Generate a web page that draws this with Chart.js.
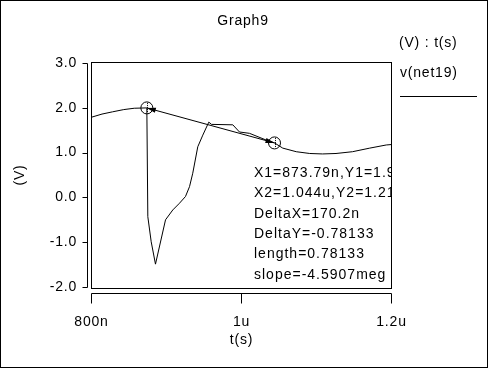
<!DOCTYPE html>
<html>
<head>
<meta charset="utf-8">
<title>Graph9</title>
<script src="https://cdn.jsdelivr.net/npm/chart.js@4/dist/chart.umd.min.js"></script>
<style>
  html, body { margin: 0; padding: 0; background: #fff; }
  canvas { display: block; }
</style>
</head>
<body>
<canvas id="graph" width="488" height="368"></canvas>
<script>
// v(net19) trace: time in ns, value in V
let timeNs = [800, 814, 828, 843, 857, 873.79, 875.1, 879.6, 885.3, 898.7, 908.4, 917.3, 925.3, 930.7, 935,
              941.7, 948.4, 956.4, 960, 988.4, 997.3, 1010.7, 1032.9, 1044, 1055, 1073, 1091, 1108, 1126,
              1148, 1171, 1193, 1200];
let volts = [1.79, 1.86, 1.91, 1.96, 1.99, 1.9977, -0.43, -0.99, -1.49, -0.50, -0.28, -0.13, 0.02, 0.24, 0.54,
             1.13, 1.39, 1.68, 1.63, 1.62, 1.46, 1.43, 1.28, 1.2163, 1.10, 1.02, 0.98, 0.97, 0.98,
             1.02, 1.10, 1.17, 1.18];

// the two cursors
let cursorT = [873.79, 1044];
let cursorV = [1.9977, 1.2163];

let xTickLabels = { 800: '800n', 1000: '1u', 1200: '1.2u' };

let readout = [
    'X1=873.79n,Y1=1.9977',
    'X2=1.044u,Y2=1.2163',
    'DeltaX=170.2n',
    'DeltaY=-0.78133',
    'length=0.78133',
    'slope=-4.5907meg'
];

const FONT = '14px "Liberation Sans", Arial, sans-serif';
const SPACING = '0.8px';

let extras = {
    id: 'extras',
    beforeDraw(chart) {
        chart.ctx.letterSpacing = SPACING;
    },
    afterDraw(chart) {
        const ctx = chart.ctx;
        const ca = chart.chartArea;
        const xs = chart.scales.x;
        const ys = chart.scales.y;

        ctx.save();
        ctx.strokeStyle = '#000';
        ctx.fillStyle = '#000';
        ctx.lineWidth = 1;
        ctx.font = FONT;
        ctx.letterSpacing = SPACING;

        // window frame
        ctx.strokeRect(0.5, 0.5, 487, 367);

        // plot box
        let L = Math.floor(ca.left) + 0.5, R = Math.floor(ca.right) + 0.5;
        let T = Math.round(ca.top) - 0.5, B = Math.round(ca.bottom) + 1.5;
        ctx.strokeRect(L, T, R - L, B - T);

        // y axis, detached on the left
        ctx.beginPath();
        let ax = L - 4;
        ctx.moveTo(ax, T + 1);
        ctx.lineTo(ax, B - 1);
        ys.ticks.forEach(t => {
            let py = Math.round(ys.getPixelForValue(t.value)) + 0.5;
            ctx.moveTo(ax - 5, py);
            ctx.lineTo(ax, py);
        });
        // x axis, detached below
        let ay = B + 5;
        ctx.moveTo(L, ay);
        ctx.lineTo(R, ay);
        xs.ticks.forEach(t => {
            let px = Math.floor(xs.getPixelForValue(t.value)) + 0.5;
            ctx.moveTo(px, ay);
            ctx.lineTo(px, ay + 10);
        });
        ctx.stroke();

        // cursor decorations
        let p = cursorT.map((t, i) => ({ x: xs.getPixelForValue(t), y: ys.getPixelForValue(cursorV[i]) }));
        let ang = Math.atan2(p[1].y - p[0].y, p[1].x - p[0].x);
        p.forEach((c, i) => {
            ctx.save();
            ctx.setLineDash([1, 1]);
            ctx.beginPath();
            ctx.moveTo(Math.round(c.x) + 0.5, c.y - 5);
            ctx.lineTo(Math.round(c.x) + 0.5, c.y + 5);
            ctx.stroke();
            ctx.restore();
            let a = i === 0 ? ang : ang + Math.PI;
            ctx.beginPath();
            ctx.moveTo(c.x, c.y);
            ctx.lineTo(c.x + 9 * Math.cos(a) - 2.5 * Math.sin(a), c.y + 9 * Math.sin(a) + 2.5 * Math.cos(a));
            ctx.lineTo(c.x + 9 * Math.cos(a) + 2.5 * Math.sin(a), c.y + 9 * Math.sin(a) - 2.5 * Math.cos(a));
            ctx.closePath();
            ctx.fill();
        });

        // title
        ctx.textAlign = 'center';
        ctx.textBaseline = 'middle';
        ctx.fillText('Graph9', 243, 21);

        // legend
        ctx.textAlign = 'left';
        ctx.fillText('(V) : t(s)', 399, 43);
        ctx.fillText('v(net19)', 400, 73);
        ctx.beginPath();
        ctx.moveTo(400, 96.5);
        ctx.lineTo(477, 96.5);
        ctx.stroke();

        // cursor readout, clipped by the plot box
        ctx.beginPath();
        ctx.rect(L + 0.5, T + 0.5, R - L - 1, B - T - 1);
        ctx.clip();
        ctx.letterSpacing = '1px';
        readout.forEach((line, i) => ctx.fillText(line, 254, 173 + i * 20.4));
        ctx.restore();
    }
};

let traceData = timeNs.map((t, i) => ({ x: t, y: volts[i] }));
let cursorData = cursorT.map((t, i) => ({ x: t, y: cursorV[i] }));

new Chart(document.getElementById('graph'), {
    type: 'line',
    data: {
        datasets: [
            {
                label: 'v(net19)',
                data: traceData,
                borderColor: '#000',
                borderWidth: 1,
                pointRadius: 0,
                tension: 0,
                fill: false
            },
            {
                label: 'cursors',
                data: cursorData,
                borderColor: '#000',
                borderWidth: 1,
                pointRadius: 6,
                pointBorderWidth: 1,
                pointBorderColor: '#000',
                pointBackgroundColor: 'rgba(0,0,0,0)',
                tension: 0,
                fill: false
            }
        ]
    },
    options: {
        responsive: false,
        devicePixelRatio: 1,
        animation: false,
        layout: { padding: { left: 0, top: 63, right: 96.5, bottom: 0 } },
        plugins: {
            legend: { display: false },
            tooltip: { enabled: false },
            title: { display: false }
        },
        scales: {
            x: {
                type: 'linear',
                min: 800,
                max: 1200,
                grid: { display: false, drawTicks: false },
                border: { display: false },
                ticks: {
                    stepSize: 200,
                    maxRotation: 0,
                    padding: 26.5,
                    color: '#000',
                    font: { family: '"Liberation Sans", Arial, sans-serif', size: 14 },
                    callback: v => xTickLabels[v] || ''
                },
                title: {
                    display: true,
                    text: 't(s)',
                    color: '#000',
                    font: { family: '"Liberation Sans", Arial, sans-serif', size: 14 },
                    padding: { top: 0, bottom: 19.5 }
                },
                afterFit: s => { s.height = 81; }
            },
            y: {
                min: -2,
                max: 3,
                grid: { display: false, drawTicks: false },
                border: { display: false },
                ticks: {
                    stepSize: 1,
                    padding: 14.5,
                    color: '#000',
                    font: { family: '"Liberation Sans", Arial, sans-serif', size: 14 },
                    callback: v => v.toFixed(1)
                },
                title: {
                    display: true,
                    text: '(V)',
                    color: '#000',
                    font: { family: '"Liberation Sans", Arial, sans-serif', size: 14 },
                    padding: { top: 11.5, bottom: 0 }
                },
                afterFit: s => { s.width = 91.5; }
            }
        }
    },
    plugins: [extras]
});
</script>
</body>
</html>
